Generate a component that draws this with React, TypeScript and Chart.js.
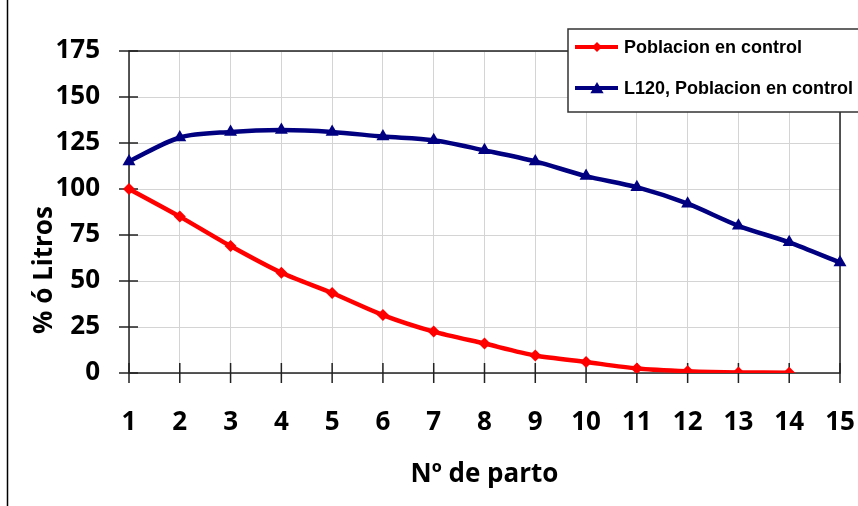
import React, { useEffect, useRef } from "react";
import { Chart, registerables } from "chart.js";

Chart.register(...registerables);

const categories = ["1", "2", "3", "4", "5", "6", "7", "8", "9", "10", "11", "12", "13", "14", "15"];
const poblacion = [100, 85, 69, 54.5, 43.5, 31.5, 22.5, 16, 9.5, 6, 2.5, 1, 0.3, 0.2];
const l120 = [115, 128, 131, 132, 131, 128.5, 126.5, 121, 115, 107, 101, 92, 80, 71, 60];
const seriesNames = ["Poblacion en control", "L120, Poblacion en control"];
const seriesColors = ["#FF0000", "#000080"];
const yTitle = "% ó Litros";
const xTitle = "Nº de parto";

const FONT = "'Open Sans', 'DejaVu Sans', sans-serif";

function drawDiamond(ctx: CanvasRenderingContext2D, x: number, y: number, r: number) {
  ctx.beginPath();
  ctx.moveTo(x, y - r);
  ctx.lineTo(x + r, y);
  ctx.lineTo(x, y + r);
  ctx.lineTo(x - r, y);
  ctx.closePath();
  ctx.fill();
}
function drawTriangle(ctx: CanvasRenderingContext2D, x: number, y: number, r: number) {
  ctx.beginPath();
  ctx.moveTo(x, y - r);
  ctx.lineTo(x + r * 0.95, y + r * 0.6);
  ctx.lineTo(x - r * 0.95, y + r * 0.6);
  ctx.closePath();
  ctx.fill();
}

const framePlugin = {
  id: "frame",
  beforeDatasetsDraw(chart: any) {
    const { ctx, chartArea } = chart;
    const { left, right, top, bottom } = chartArea;
    const xs = chart.scales.x;
    const ys = chart.scales.y;
    ctx.save();
    ctx.strokeStyle = "#222";
    ctx.lineWidth = 1.5;
    ctx.strokeRect(left, top, right - left, bottom - top);
    ctx.beginPath();
    for (let i = 0; i < categories.length; i++) {
      const px = xs.getPixelForValue(i);
      ctx.moveTo(px, bottom - 10);
      ctx.lineTo(px, bottom + 10);
    }
    for (let v = 0; v <= 175; v += 25) {
      const py = ys.getPixelForValue(v);
      ctx.moveTo(left - 10, py);
      ctx.lineTo(left + 9, py);
    }
    ctx.stroke();
    // outer left border
    ctx.strokeStyle = "#000";
    ctx.beginPath();
    ctx.moveTo(7.5, 0);
    ctx.lineTo(7.5, chart.height);
    ctx.stroke();
    // y title
    ctx.fillStyle = "#000";
    ctx.font = `bold 26px ${FONT}`;
    ctx.textAlign = "center";
    ctx.textBaseline = "middle";
    ctx.translate(45, 270);
    ctx.rotate(-Math.PI / 2);
    ctx.fillText(yTitle, 0, 0);
    ctx.restore();
  },
  afterDatasetsDraw(chart: any) {
    const { ctx } = chart;
    ctx.save();
    ctx.fillStyle = "#fff";
    ctx.fillRect(568, 29, 320, 83);
    ctx.strokeStyle = "#333";
    ctx.lineWidth = 1.5;
    ctx.strokeRect(568, 29, 320, 83);
    const rows = [47, 88];
    rows.forEach((y, i) => {
      ctx.strokeStyle = seriesColors[i];
      ctx.fillStyle = seriesColors[i];
      ctx.lineWidth = 4;
      ctx.beginPath();
      ctx.moveTo(575, y);
      ctx.lineTo(618, y);
      ctx.stroke();
      if (i === 0) drawDiamond(ctx, 597, y, 5);
      else drawTriangle(ctx, 597, y + 1, 7);
      ctx.fillStyle = "#000";
      ctx.font = "bold 18px 'Liberation Sans', Arial, sans-serif";
      ctx.textAlign = "left";
      ctx.textBaseline = "middle";
      ctx.fillText(seriesNames[i], 624, y + 1);
    });
    ctx.restore();
  },
};

export default function App() {
  const ref = useRef<HTMLCanvasElement>(null);
  useEffect(() => {
    if (!ref.current) return;
    const chart = new Chart(ref.current, {
      type: "line",
      data: {
        labels: categories,
        datasets: [
          {
            label: seriesNames[0],
            data: poblacion,
            borderColor: seriesColors[0],
            backgroundColor: seriesColors[0],
            borderWidth: 4.5,
            pointStyle: "rectRot",
            pointRadius: 6,
            pointBorderWidth: 0,
            tension: 0.25,
          },
          {
            label: seriesNames[1],
            data: l120,
            borderColor: seriesColors[1],
            backgroundColor: seriesColors[1],
            borderWidth: 4.5,
            pointStyle: "triangle",
            pointRadius: 7.5,
            pointBorderWidth: 0,
            tension: 0.3,
          },
        ],
      },
      options: {
        animation: false,
        responsive: true,
        maintainAspectRatio: false,
        layout: { padding: { top: 51, right: 18, left: 0, bottom: 0 } },
        plugins: { legend: { display: false }, tooltip: { enabled: false } },
        scales: {
          x: {
            type: "category",
            offset: false,
            border: { display: false },
            grid: { color: "#d4d4d4", lineWidth: 1, drawTicks: false },
            ticks: {
              color: "#000",
              padding: 34,
              maxRotation: 0,
              autoSkip: false,
              font: { family: FONT, size: 26, weight: "bold" },
            },
            title: {
              display: true,
              text: xTitle,
              color: "#000",
              padding: { top: 4, bottom: 16 },
              font: { family: FONT, size: 26, weight: "bold" },
            },
            afterFit(scale: any) {
              scale.height = 133;
              scale.paddingLeft = 0;
              scale.paddingRight = 0;
            },
          },
          y: {
            min: 0,
            max: 175,
            border: { display: false },
            grid: { color: "#d4d4d4", lineWidth: 1, drawTicks: false },
            ticks: {
              stepSize: 25,
              color: "#000",
              padding: 29,
              font: { family: FONT, size: 26, weight: "bold" },
            },
            afterFit(scale: any) {
              scale.width = 129;
              scale.paddingTop = 0;
              scale.paddingBottom = 0;
            },
          },
        },
      },
      plugins: [framePlugin],
    });
    return () => chart.destroy();
  }, []);
  return (
    <div style={{ position: "fixed", left: 0, top: 0, width: 858, height: 506, background: "#fff" }}>
      <canvas ref={ref} />
    </div>
  );
}
